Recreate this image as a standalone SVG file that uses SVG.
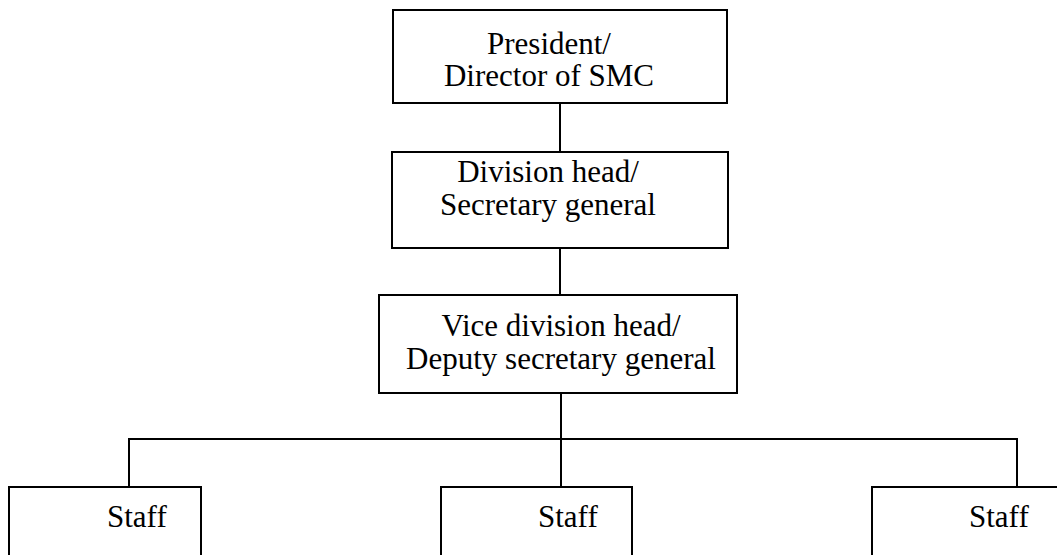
<svg xmlns="http://www.w3.org/2000/svg" width="1057" height="555" viewBox="0 0 1057 555">
<style>
.box{fill:#fff;stroke:#000;stroke-width:2}
.ln{fill:none;stroke:#000;stroke-width:2}
text{font-family:"Liberation Serif","Times New Roman",serif;font-size:31px;fill:#000}
.c{text-anchor:middle}
</style>
<rect width="1057" height="555" fill="#fff"/>
<g id="connectors">
<line class="ln" x1="560" y1="103" x2="560" y2="152"/>
<line class="ln" x1="560" y1="248" x2="560" y2="295"/>
<line class="ln" x1="561" y1="393" x2="561" y2="487"/>
<polyline class="ln" points="129,487 129,439 1017,439 1017,487"/>
</g>
<g id="president">
<rect class="box" x="393" y="10" width="334" height="93"/>
<text class="c" x="549" y="54">President/</text>
<text class="c" x="549" y="86">Director of SMC</text>
</g>
<g id="division-head">
<rect class="box" x="392" y="152" width="336" height="96"/>
<text class="c" x="548" y="182">Division head/</text>
<text class="c" x="548" y="215">Secretary general</text>
</g>
<g id="vice-division-head">
<rect class="box" x="379" y="295" width="358" height="98"/>
<text class="c" x="561" y="336">Vice division head/</text>
<text class="c" x="561" y="369">Deputy secretary general</text>
</g>
<g id="staff-1">
<rect class="box" x="9" y="487" width="192" height="80"/>
<text x="107" y="527">Staff</text>
</g>
<g id="staff-2">
<rect class="box" x="441" y="487" width="191" height="80"/>
<text x="538" y="527">Staff</text>
</g>
<g id="staff-3">
<rect class="box" x="872" y="487" width="200" height="80"/>
<text x="969" y="527">Staff</text>
</g>
</svg>
